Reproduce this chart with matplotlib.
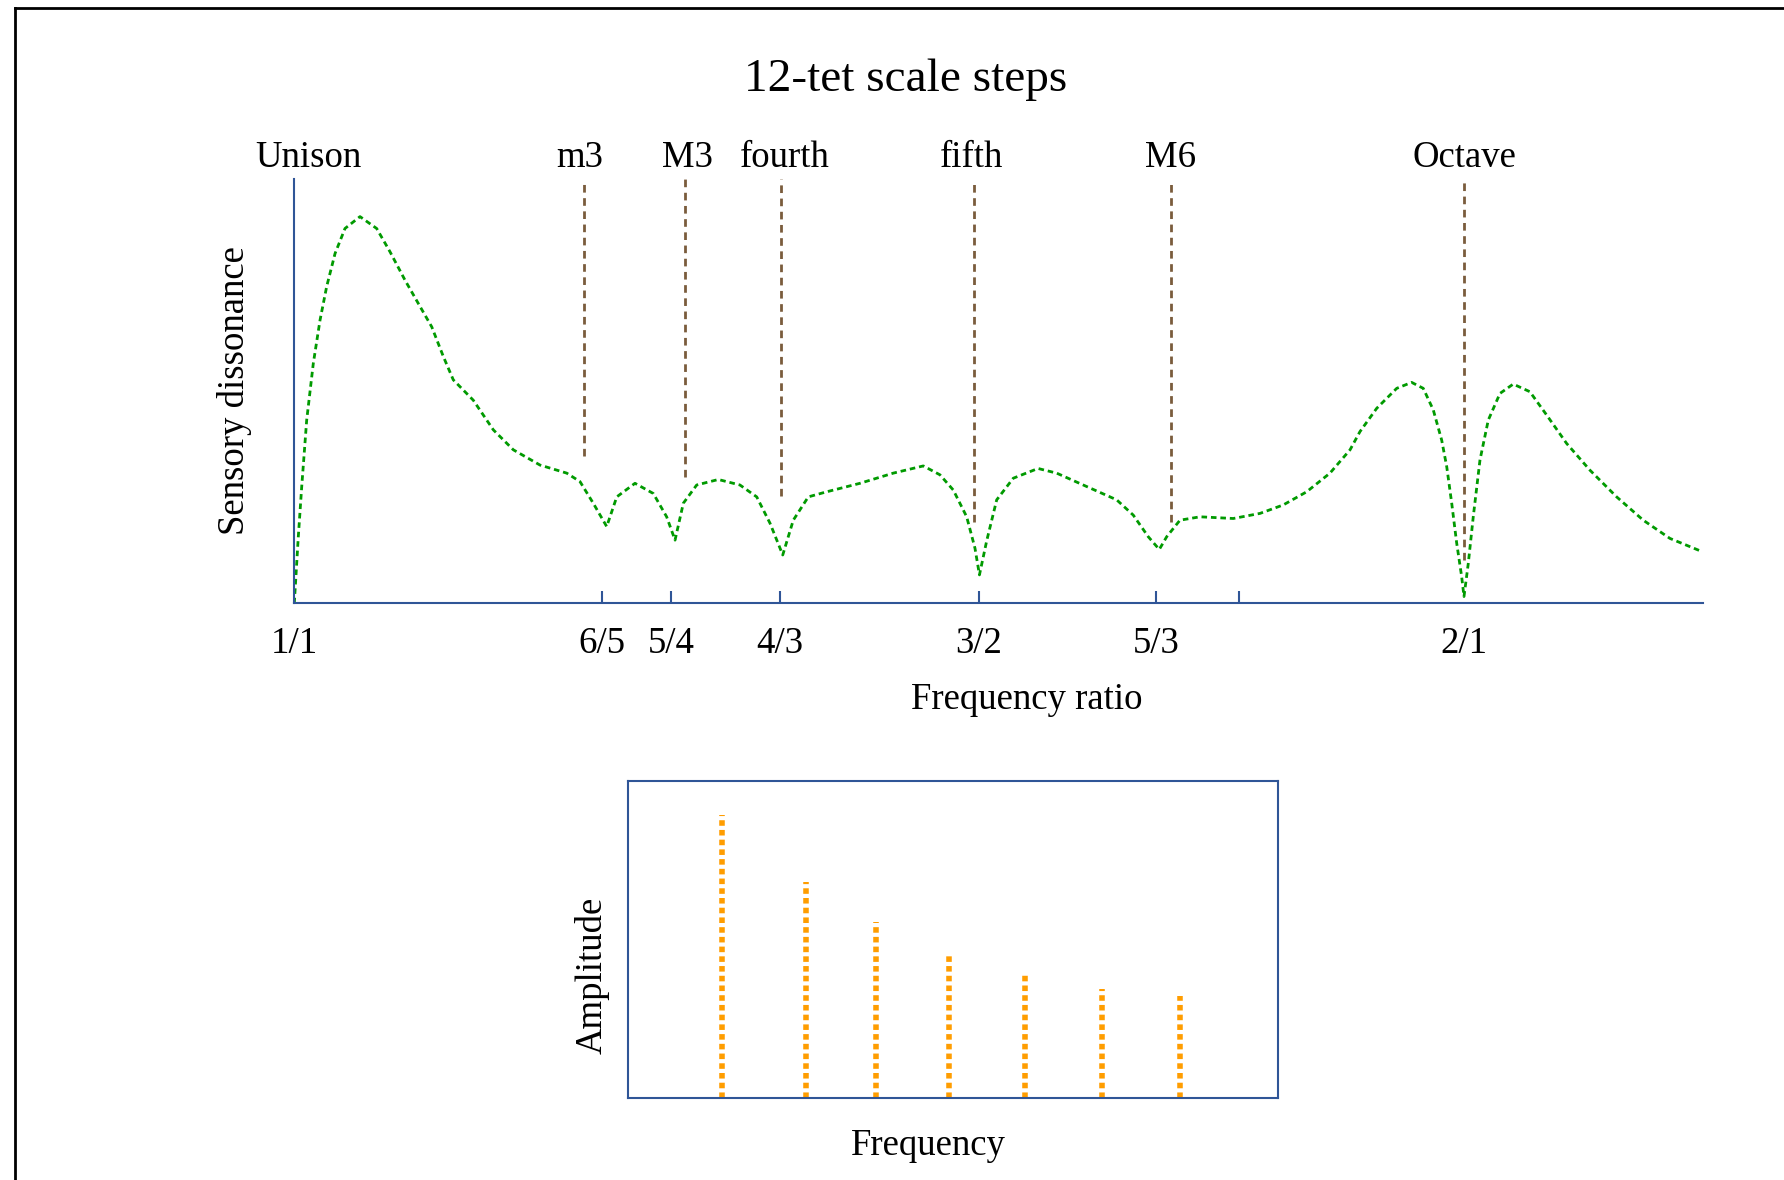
import numpy as np
import matplotlib
matplotlib.use('Agg')
import matplotlib.pyplot as plt
from matplotlib.lines import Line2D

plt.rcParams['font.family'] = ['Liberation Serif', 'DejaVu Serif']

# dissonance curve, x in cents above 1/1, y in relative units
curve_cents = [0, 4.1, 7.6, 12.7, 19.5, 26.4, 33.2, 41.8, 52.0, 67.4,
               84.5, 98.2, 113.6, 129.0, 141.0, 152.9, 163.1, 183.6, 204.2, 224.7,
               252.1, 279.5, 293.1, 306.7, 320.5, 330.8, 349.5, 368.3, 382.0, 390.6,
               399.1, 412.8, 435.0, 457.2, 474.4, 488.0, 501.1, 511.9, 527.3, 546.2,
               580.3, 614.5, 645.3, 662.4, 676.1, 689.8, 698.3, 702.9, 710.3, 720.6,
               737.6, 763.0, 782.1, 809.4, 843.7, 860.7, 876.1, 887.4, 895.0, 908.6,
               929.2, 963.3, 990.7, 1014.6, 1038.6, 1062.5, 1083.1, 1093.3, 1110.5, 1131.0,
               1146.3, 1158.2, 1168.5, 1177.1, 1182.3, 1187.4, 1192.5, 1197.6, 1200, 1204.4,
               1209.5, 1216.4, 1224.9, 1236.9, 1250.5, 1267.6, 1284.8, 1305.3, 1329.2, 1356.6,
               1383.9, 1411.3, 1442.0]
curve_diss = [0, 0.157, 0.275, 0.432, 0.566, 0.668, 0.747, 0.825, 0.884, 0.912,
              0.884, 0.829, 0.762, 0.700, 0.652, 0.582, 0.527, 0.479, 0.409, 0.362,
              0.326, 0.307, 0.287, 0.236, 0.181, 0.251, 0.283, 0.259, 0.204, 0.149,
              0.236, 0.279, 0.292, 0.279, 0.251, 0.189, 0.114, 0.196, 0.251, 0.263,
              0.283, 0.307, 0.324, 0.303, 0.267, 0.204, 0.130, 0.067, 0.147, 0.244,
              0.295, 0.318, 0.307, 0.279, 0.244, 0.208, 0.157, 0.127, 0.157, 0.196,
              0.204, 0.200, 0.212, 0.232, 0.263, 0.307, 0.362, 0.405, 0.460, 0.507,
              0.521, 0.507, 0.456, 0.385, 0.322, 0.236, 0.142, 0.063, 0.016, 0.094,
              0.204, 0.338, 0.432, 0.495, 0.517, 0.499, 0.444, 0.377, 0.314, 0.251,
              0.196, 0.153, 0.124]

# just ratios on the x axis
ratio_labels = ['1/1', '6/5', '5/4', '4/3', '3/2', '5/3', '', '2/1']
ratio_values = [1, 6/5, 5/4, 4/3, 3/2, 5/3, 7/4, 2]

# 12-tet steps (marker lines as drawn in the picture)
step_names = ['Unison', 'm3', 'M3', 'fourth', 'fifth', 'M6', 'Octave']
step_cents = [0, 297, 401, 499, 697, 899, 1200]
step_line_bottom = [np.nan, 0.347, 0.297, 0.253, 0.192, 0.192, 0.102]

# spectrum below
partial_freqs = [1.0, 1.89, 2.63, 3.41, 4.22, 5.03, 5.86]
partial_amps = [0.892, 0.680, 0.556, 0.454, 0.388, 0.343, 0.322]

blue = '#2f5597'
green = '#009a00'
brown = '#7a5c3c'
orange = '#ff9d00'

fig = plt.figure(figsize=(17.84, 11.80), dpi=100)

# frame round the whole picture (runs off right and bottom)
fig.add_artist(Line2D([0.00824, 0.00824], [0.99322, -0.1], color='black', lw=2, transform=fig.transFigure))
fig.add_artist(Line2D([0.00824, 1.1], [0.99322, 0.99322], color='black', lw=2, transform=fig.transFigure))

ax = fig.add_axes([0.16497, 0.48873, 0.78979, 0.35932])
ratio_cents = [1200 * np.log2(r) for r in ratio_values]

ax.plot(curve_cents, curve_diss, color=green, lw=2, linestyle=(0, (2.0, 1.4)), clip_on=False)

label_shift = {'Unison': 14, 'm3': -4, 'M3': 2, 'fourth': 4, 'fifth': -2}
for name, c, bot in zip(step_names, step_cents, step_line_bottom):
    if not np.isnan(bot):
        ax.vlines(c, bot, 1.0, color=brown, lw=2, linestyles=[(0, (2.75, 2.0))])
    lx = c + label_shift.get(name, 0)
    ax.text(lx, 1.0297, name, transform=ax.get_xaxis_transform(), ha='center', va='baseline', fontsize=26.5)

ax.set_xlim(0, 1445.5)
ax.set_ylim(0, 1)
ax.set_xticks(ratio_cents)
ax.set_xticklabels(ratio_labels, fontsize=26.5)
ax.set_yticks([])
ax.tick_params(axis='x', direction='in', length=9, width=1.5, color=blue, pad=17)
ticks = ax.xaxis.get_major_ticks()
ticks[0].tick1line.set_visible(False)
ticks[-1].tick1line.set_visible(False)
for s in ['top', 'right']:
    ax.spines[s].set_visible(False)
for s in ['left', 'bottom']:
    ax.spines[s].set_color(blue)
    ax.spines[s].set_linewidth(1.5)

fig.text(0.50757, 0.92288, '12-tet scale steps', ha='center', va='baseline', fontsize=34)
fig.text(0.57567, 0.39915, 'Frequency ratio', ha='center', va='baseline', fontsize=26.5)
fig.text(0.1314, 0.66864, 'Sensory dissonance', rotation=90, ha='center', va='center', fontsize=26.5)

# spectrum
ax2 = fig.add_axes([0.35202, 0.06924, 0.36424, 0.26923])
ax2.vlines(partial_freqs, 0, partial_amps, color=orange, lw=4, linestyles=[(0, (1.0, 0.75))])
ax2.set_xlim(0, 6.9)
ax2.set_ylim(0, 1)
ax2.set_xticks([])
ax2.set_yticks([])
for s in ax2.spines.values():
    s.set_color(blue)
    s.set_linewidth(1.5)

fig.text(0.3321, 0.17305, 'Amplitude', rotation=90, ha='center', va='center', fontsize=26.5)
fig.text(0.5202, 0.02119, 'Frequency', ha='center', va='baseline', fontsize=26.5)

fig.savefig('out.png', dpi=100)
